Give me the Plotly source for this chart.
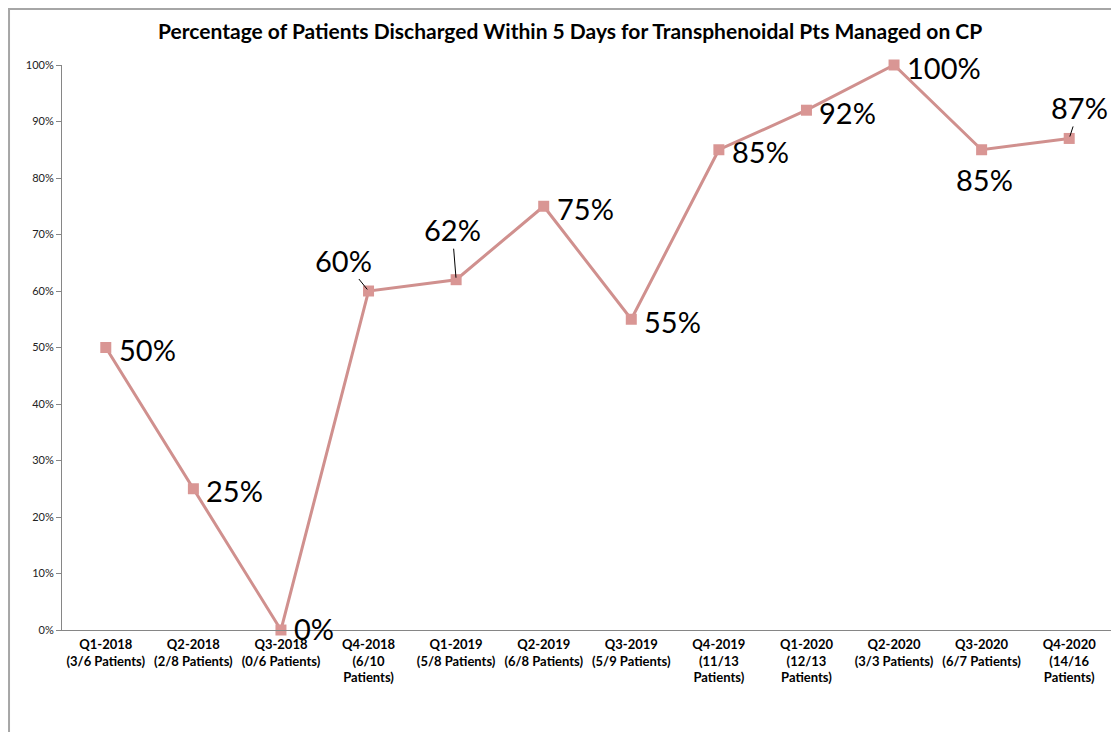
import plotly.graph_objects as go

# data
quarters = ["Q1-2018", "Q2-2018", "Q3-2018", "Q4-2018", "Q1-2019", "Q2-2019",
            "Q3-2019", "Q4-2019", "Q1-2020", "Q2-2020", "Q3-2020", "Q4-2020"]
patients = ["(3/6 Patients)", "(2/8 Patients)", "(0/6 Patients)", "(6/10<br>Patients)",
            "(5/8 Patients)", "(6/8 Patients)", "(5/9 Patients)", "(11/13<br>Patients)",
            "(12/13<br>Patients)", "(3/3 Patients)", "(6/7 Patients)", "(14/16<br>Patients)"]
pct = [0.50, 0.25, 0.00, 0.60, 0.62, 0.75, 0.55, 0.85, 0.92, 1.00, 0.85, 0.87]

cats = [f"{q}<br>{p}" for q, p in zip(quarters, patients)]

# label placement: "r" = right of marker, "b" = below, (ax, ay) = leader line offset
label_pos = ["r", "r", "r", (-25, -31), (-4, -50), "r", "r", "r", "r", "r", "b", (10, -31)]

LINE = "#D0908E"
MARK = "#D99694"
FONT = "Lato"

fig = go.Figure()
fig.add_trace(go.Scatter(
    x=cats, y=pct, mode="lines+markers",
    line=dict(color=LINE, width=3),
    marker=dict(symbol="square", size=11, color=MARK),
    cliponaxis=False, showlegend=False, hoverinfo="skip",
))

for c, v, pos in zip(cats, pct, label_pos):
    txt = f"{round(v * 100)}%"
    base = dict(x=c, y=v, text=txt, font=dict(family=FONT, size=29, color="#000"))
    if pos == "r":
        fig.add_annotation(**base, showarrow=False, xanchor="left", xshift=11,
                           yshift=2 if v == 0 else -2)
    elif pos == "b":
        fig.add_annotation(**base, showarrow=False, yanchor="middle", xshift=3, yshift=-30)
    else:
        fig.add_annotation(**base, showarrow=True, arrowhead=0, arrowwidth=1,
                           arrowcolor="#000", ax=pos[0], ay=pos[1], standoff=2)

# page body adds an 8px offset, so the figure is a bit smaller than the window
fig.update_layout(
    width=1111, height=724,
    paper_bgcolor="white", plot_bgcolor="white",
    margin=dict(l=54, r=6, t=57, b=102),
    title=dict(text="<b>Percentage of Patients Discharged Within 5 Days for Transphenoidal Pts Managed on CP</b>",
               x=0.506, xanchor="center", y=0.967, yanchor="middle",
               font=dict(family=FONT, size=21, color="#000")),
    font=dict(family=FONT),
    shapes=[dict(type="rect", xref="paper", yref="paper",
                 x0=-0.0504, x1=1.2, y0=-0.4, y1=1.099,
                 line=dict(color="#A6A6A6", width=2), layer="below")],
)
fig.update_yaxes(range=[0, 1], dtick=0.1, tickformat=".0%", showgrid=False,
                 showline=True, linecolor="#868686", linewidth=1,
                 ticks="outside", ticklen=5, tickcolor="#868686", automargin=False,
                 tickfont=dict(family=FONT, size=11, color="#222"), zeroline=False)
fig.update_xaxes(range=[-0.5, len(cats) - 0.5], showgrid=False, showline=True,
                 linecolor="#868686", linewidth=1,
                 ticks="", tickangle=0, automargin=False, ticklabelstandoff=2,
                 tickfont=dict(family=FONT, size=13, color="#000"))
# bold category labels
fig.update_xaxes(tickvals=cats, ticktext=[f"<b>{c}</b>" for c in cats])

fig.write_html("out.html")
